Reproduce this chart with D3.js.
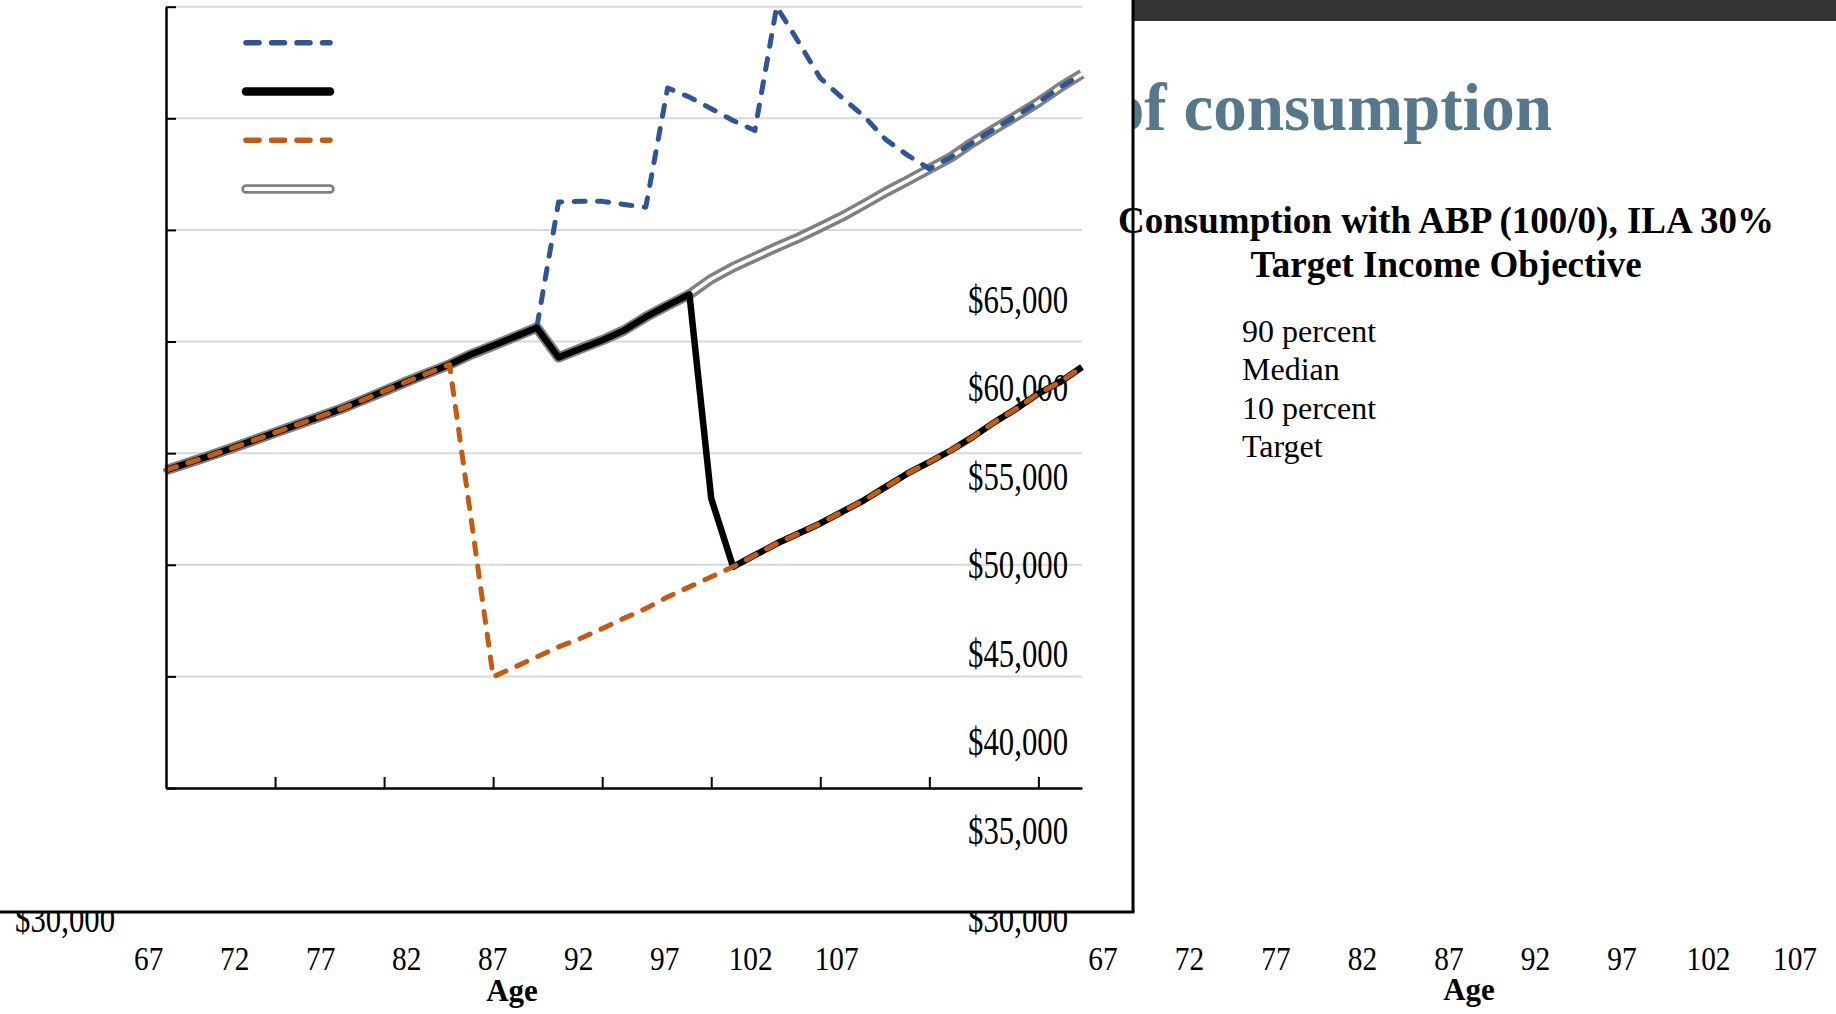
<!DOCTYPE html>
<html>
<head>
<meta charset="utf-8">
<script src="https://cdn.jsdelivr.net/npm/d3@7"></script>
<style>
  body { margin: 0; background: #fff; }
  svg { display: block; font-family: "Liberation Serif", "Times New Roman", serif; }
</style>
</head>
<body>
<svg id="viz" width="1836" height="1014"></svg>
<script>

// ages on the category axis
const ages = [67, 68, 69, 70, 71, 72, 73, 74, 75, 76, 77, 78, 79, 80, 81, 82, 83, 84, 85, 86, 87,
    88, 89, 90, 91, 92, 93, 94, 95, 96, 97, 98, 99, 100, 101, 102, 103, 104, 105, 106, 107, 108, 109]

const target = [44240, 44560, 44880, 45220, 45570, 45920, 46270, 46620, 46970, 47370, 47780, 48190,
    48580, 48970, 49430, 49820, 50220, 50620, 49290, 49680, 50060, 50500, 51100, 51620, 52110, 52800,
    53330, 53780, 54230, 54650, 55120, 55600, 56140, 56700, 57210, 57740, 58260, 58930, 59530, 60120,
    60720, 61390, 61990]

const p90 = [44240, 44560, 44880, 45220, 45570, 45920, 46270, 46620, 46970, 47370, 47780, 48190,
    48580, 48970, 49430, 49820, 50220, 50620, 56250, 56280, 56280, 56140, 56020, 61360, 60950, 60430,
    59900, 59450, 65000, 63420, 61800, 60920, 60100, 59050, 58350, 57740, 58260, 58930, 59530, 60120,
    60720, 61390, 61990]

const median = [44240, 44560, 44880, 45220, 45570, 45920, 46270, 46620, 46970, 47370, 47780, 48190,
    48580, 48970, 49430, 49820, 50220, 50620, 49290, 49680, 50060, 50500, 51100, 51620, 52110, 42970,
    39910, 40430, 40950, 41400, 41850, 42370, 42890, 43490, 44090, 44600, 45130, 45730, 46400, 47000,
    47670, 48190, 48860]

const p10 = [44240, 44560, 44880, 45220, 45570, 45920, 46270, 46620, 46970, 47370, 47780, 48190,
    48580, 48970, 41980, 34980, 35420, 35870, 36320, 36700, 37140, 37600, 38040, 38560, 39010, 39460,
    39910, 40430, 40950, 41400, 41850, 42370, 42890, 43490, 44090, 44600, 45130, 45730, 46400, 47000,
    47670, 48190, 48860]

const legendLabels = ["90 percent", "Median", "10 percent", "Target"]
const yTicks = [30000, 35000, 40000, 45000, 50000, 55000, 60000, 65000]
const ageTicks = [72, 77, 82, 87, 92, 97, 102, 107]
const ageLabels = [67, 72, 77, 82, 87, 92, 97, 102, 107]

const svg = d3.select("#viz"),
    width = 1836,
    height = 1014,
    frame_x = 1133,
    frame_y = 912

const colors = { p90: "#2f5597", median: "#000", p10: "#c55a11", target: "#808080" }

const x = d3.scaleLinear().domain([67, 109]).range([166, 1082])
const y = d3.scaleLinear().domain([30000, 65000]).range([788, 6.7])

// the tick labels sit on their own scales, they do not line up with the plot
const labelY = d3.scaleLinear().domain([30000, 65000]).range([932, 313])
const labelXLeft = d3.scaleLinear().domain([67, 107]).range([148.7, 836.7])
const labelXRight = d3.scaleLinear().domain([67, 107]).range([1103, 1795])

// slide title, partly hidden behind the chart box
svg.append("text")
    .attr("x", 1552).attr("y", 130)
    .attr("text-anchor", "end")
    .attr("font-size", 67).attr("font-weight", "bold")
    .attr("fill", "#57788b")
    .text("of consumption")

svg.append("rect")
    .attr("x", 0).attr("y", 0)
    .attr("width", frame_x).attr("height", frame_y)
    .attr("fill", "#fff")

svg.append("rect")
    .attr("x", frame_x).attr("y", 0)
    .attr("width", width - frame_x).attr("height", 21)
    .attr("fill", "#333")

// chart title + legend text
const title = svg.append("text")
    .attr("text-anchor", "middle")
    .attr("font-size", 37).attr("font-weight", "bold")
title.append("tspan").attr("x", 1446).attr("y", 233).text("Consumption with ABP (100/0), ILA 30%")
title.append("tspan").attr("x", 1446).attr("y", 277).text("Target Income Objective")

svg.append("g")
    .selectAll("text")
    .data(legendLabels)
    .enter().append("text")
    .attr("x", 1242)
    .attr("y", (d, i) => 342 + i * 38.3)
    .attr("font-size", 32)
    .text(d => d)

// gridlines
svg.append("g")
    .selectAll("line")
    .data(yTicks.slice(1))
    .enter().append("line")
    .attr("x1", x(67)).attr("x2", x(109))
    .attr("y1", d => y(d)).attr("y2", d => y(d))
    .attr("stroke", "#d9d9d9").attr("stroke-width", 2)

// loose tick labels
const clip = svg.append("clipPath").attr("id", "label-clip")
clip.append("rect").attr("x", 0).attr("y", 0).attr("width", width).attr("height", 900)
clip.append("rect").attr("x", 0).attr("y", frame_y).attr("width", width).attr("height", height - frame_y)

const labels = svg.append("g").attr("clip-path", "url(#label-clip)")
const fmt = d3.format("$,")

labels.selectAll(".ylab")
    .data(yTicks)
    .enter().append("text")
    .attr("class", "ylab")
    .attr("text-anchor", "end")
    .attr("font-size", 41)
    .attr("transform", d => `translate(1068,${labelY(d)}) scale(0.75,1)`)
    .text(d => fmt(d))

labels.append("text")
    .attr("text-anchor", "end")
    .attr("font-size", 41)
    .attr("transform", `translate(115,${labelY(30000)}) scale(0.75,1)`)
    .text(fmt(30000))

const ageScales = [labelXLeft, labelXRight]
ageScales.forEach(sc => {
    labels.append("g")
        .selectAll("text")
        .data(ageLabels)
        .enter().append("text")
        .attr("text-anchor", "middle")
        .attr("font-size", 33)
        .attr("transform", d => `translate(${sc(d)},970) scale(0.89,1)`)
        .text(d => d)
})

svg.append("text").attr("x", 512).attr("y", 1001)
    .attr("text-anchor", "middle").attr("font-size", 31).attr("font-weight", "bold").text("Age")
svg.append("text").attr("x", 1469).attr("y", 1000)
    .attr("text-anchor", "middle").attr("font-size", 31).attr("font-weight", "bold").text("Age")

// series
const line = d3.line()
    .x((d, i) => x(ages[i]))
    .y(d => y(d))

const plot = svg.append("g")
    .attr("fill", "none")
    .attr("stroke-linejoin", "round")

plot.append("path").attr("d", line(target))
    .attr("stroke", colors.target).attr("stroke-width", 10.5)
plot.append("path").attr("d", line(target))
    .attr("stroke", "#fff").attr("stroke-width", 3.5)
plot.append("path").attr("d", line(p90))
    .attr("stroke", colors.p90).attr("stroke-width", 5)
    .attr("stroke-dasharray", "11,12.5").attr("stroke-linecap", "round")
plot.append("path").attr("d", line(median))
    .attr("stroke", colors.median).attr("stroke-width", 6.5)
plot.append("path").attr("d", line(p10))
    .attr("stroke", colors.p10).attr("stroke-width", 5)
    .attr("stroke-dasharray", "11,12").attr("stroke-linecap", "round")

// axes with inward ticks
const yAxis = svg.append("g")
    .attr("transform", `translate(${x(67)},0)`)
    .call(d3.axisLeft(y).tickValues(yTicks).tickSize(-10).tickSizeOuter(0).tickFormat(""))
const xAxis = svg.append("g")
    .attr("transform", `translate(0,${y(30000)})`)
    .call(d3.axisBottom(x).tickValues(ageTicks).tickSize(-11).tickSizeOuter(0).tickFormat(""))

;[yAxis, xAxis].forEach(ax => {
    ax.select(".domain").attr("stroke", "#000").attr("stroke-width", 2.5)
    ax.selectAll(".tick line").attr("stroke", "#000").attr("stroke-width", 2)
})

// legend swatches (their text sits at the right)
const legend = svg.append("g").attr("fill", "none").attr("stroke-linecap", "round")
const swatch = i => `M246,${42.7 + i * 48.8}H330`

legend.append("path").attr("d", swatch(0))
    .attr("stroke", colors.p90).attr("stroke-width", 5.5).attr("stroke-dasharray", "13,12.5")
legend.append("path").attr("d", swatch(1))
    .attr("stroke", colors.median).attr("stroke-width", 8.5)
legend.append("path").attr("d", swatch(2))
    .attr("stroke", colors.p10).attr("stroke-width", 5.5).attr("stroke-dasharray", "13,12.5")
legend.append("path").attr("d", swatch(3))
    .attr("stroke", colors.target).attr("stroke-width", 9.5)
legend.append("path").attr("d", swatch(3))
    .attr("stroke", "#fff").attr("stroke-width", 4)

// frame of the chart box
svg.append("line")
    .attr("x1", frame_x).attr("x2", frame_x)
    .attr("y1", 0).attr("y2", frame_y)
    .attr("stroke", "#000").attr("stroke-width", 3)
svg.append("line")
    .attr("x1", 0).attr("x2", frame_x + 1.5)
    .attr("y1", frame_y).attr("y2", frame_y)
    .attr("stroke", "#000").attr("stroke-width", 3)

</script>
</body>
</html>
